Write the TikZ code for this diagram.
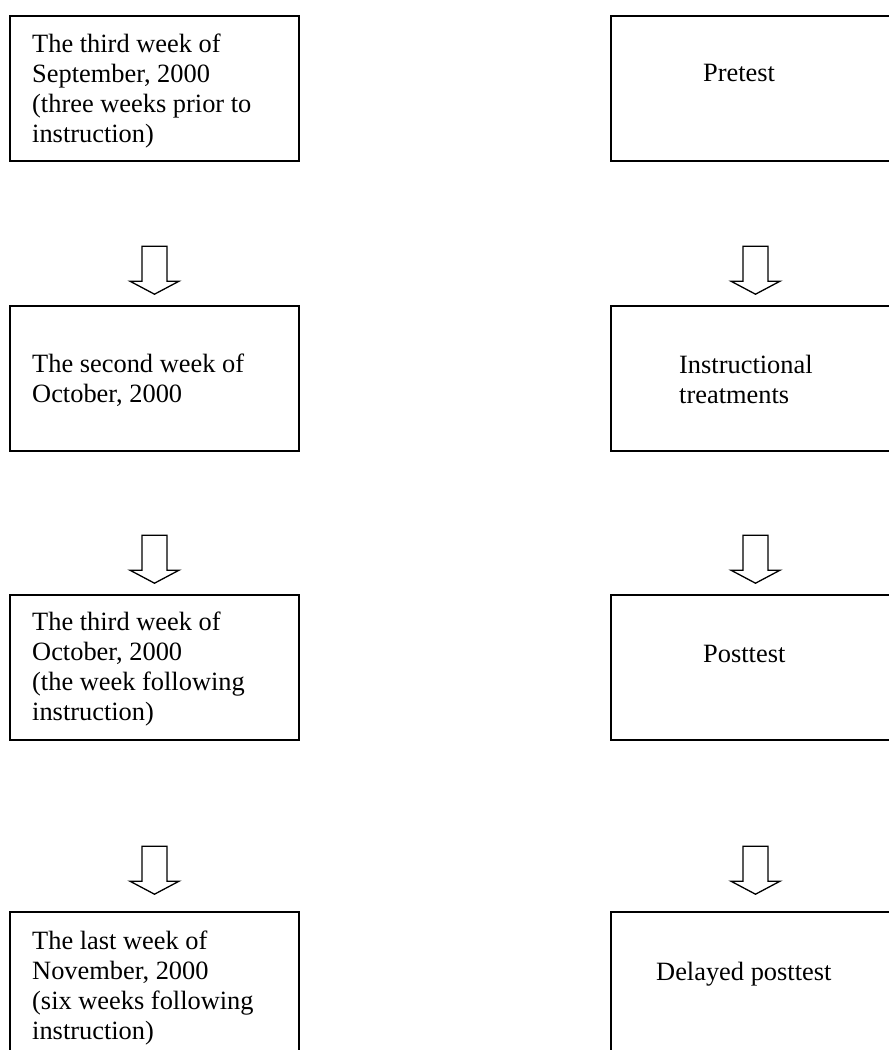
\documentclass[tikz,border=0pt]{standalone}
\usepackage{fontspec}
\setmainfont{Liberation Serif}
\tikzset{
  stage/.style={draw, line width=1.6pt, minimum width=289pt, minimum height=145pt, inner sep=0pt},
  note/.style={anchor=north west, inner sep=0pt, align=left, font=\fontsize{26.4}{30}\selectfont},
  blockarrow/.pic={
    \draw[line width=1.3pt, line join=miter] (-12.5,0) -- (-12.5,35) -- (-24.5,35) -- (0,48)
      -- (24.5,35) -- (12.5,35) -- (12.5,0) -- cycle;
  }
}
\begin{document}
\begin{tikzpicture}[x=1pt,y=-1pt]
    \path[use as bounding box, clip] (0,0) rectangle (889,1050);

    % time line
    \node[stage] (week1) at (154.5,88.5)  {};
    \node[stage] (week2) at (154.5,378.5) {};
    \node[stage] (week3) at (154.5,667.5) {};
    \node[stage] (week4) at (154.5,984.5) {};

    % tests
    \node[stage] (pre)     at (755.5,88.5)  {};
    \node[stage] (treat)   at (755.5,378.5) {};
    \node[stage] (post)    at (755.5,667.5) {};
    \node[stage] (delayed) at (755.5,984.5) {};

    \node[note] (week1txt) at (32,34)  {The third week of\\September, 2000\\(three weeks prior to\\instruction)};
    \node[note] (week2txt) at (32,354) {The second week of\\October, 2000};
    \node[note] (week3txt) at (32,612) {The third week of\\October, 2000\\(the week following\\instruction)};
    \node[note] (week4txt) at (32,931) {The last week of\\November, 2000\\(six weeks following\\instruction)};

    \node[note] (pretxt)     at (703,64.5)  {Pretest};
    \node[note] (treattxt)   at (679,354.5) {Instructional\\treatments};
    \node[note] (posttxt)    at (703,645.5) {Posttest};
    \node[note] (delayedtxt) at (656,961.5) {Delayed posttest};

    \pic at ([yshift=59pt]week2.north) {blockarrow};
    \pic at ([yshift=59pt]week3.north) {blockarrow};
    \pic at ([yshift=65pt]week4.north) {blockarrow};
    \pic at ([yshift=59pt]treat.north)   {blockarrow};
    \pic at ([yshift=59pt]post.north)    {blockarrow};
    \pic at ([yshift=65pt]delayed.north) {blockarrow};
\end{tikzpicture}
\end{document}
